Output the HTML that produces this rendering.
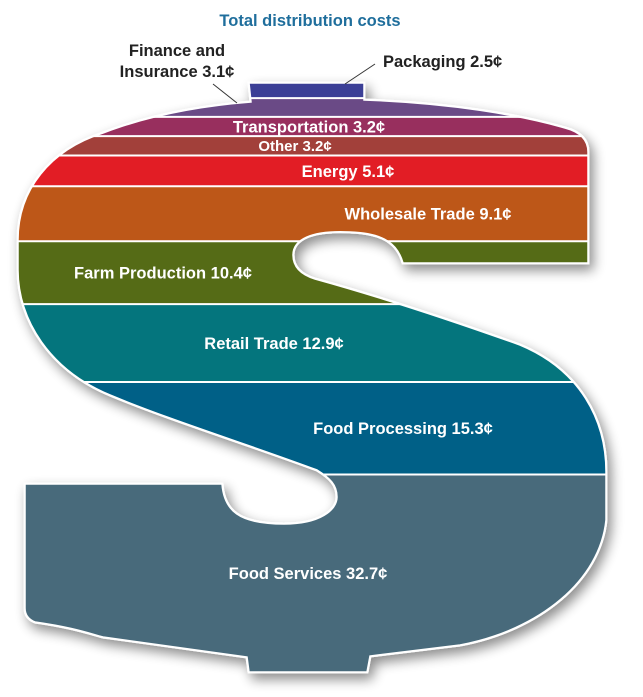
<!DOCTYPE html>
<html><head><meta charset="utf-8"><style>
html,body{margin:0;padding:0;background:#fff;}
svg{display:block;font-family:"Liberation Sans",sans-serif;}
</style></head><body>
<svg id="chart" width="643" height="697" viewBox="0 0 643 697">
<defs>
<clipPath id="sclip"><path id="spath" d="M249,83 L364,83 L364,100 C450,103 520,115 565,128 Q588,134 588,152 L588,263 L403,263 C398,245 385,233 350,232 C310,230 293,240 293,255 C293,268 302,275 315,279 C380,297 450,320 520,345 C580,370 606,420 606,472 L606,520 C600,580 540,630 460,645 L370,656 L367,672 L249,672 L247,657 L103,637 C85,632 70,627 35,622 Q25,618 25,608 L25,484 L222,484 C224,510 238,524 284,524 C320,524 337,510 337,497 C337,485 330,478 317,470 C250,445 170,420 110,395 C50,370 18,320 18,270 L18,240 C18,190 50,150 103,133 C150,115 200,106 251,102 Z"/></clipPath>
<filter id="shadow" x="-10%" y="-10%" width="130%" height="130%"><feGaussianBlur in="SourceAlpha" stdDeviation="6"/><feOffset dx="4" dy="6"/><feComponentTransfer><feFuncA type="linear" slope="0.45"/></feComponentTransfer><feMerge><feMergeNode/><feMergeNode in="SourceGraphic"/></feMerge></filter>
</defs>
<text x="310" y="26" text-anchor="middle" font-size="16.5" font-weight="bold" fill="#1f6e9c">Total distribution costs</text>
<g filter="url(#shadow)"><use href="#spath" fill="#fff" stroke="#fff" stroke-width="3"/></g>
<g id="bands" clip-path="url(#sclip)"></g>
<g id="labels"></g>
<text x="177" y="56" text-anchor="middle" font-size="16.5" font-weight="bold" fill="#222">Finance and</text>
<text x="177" y="77" text-anchor="middle" font-size="16.5" font-weight="bold" fill="#222">Insurance 3.1¢</text>
<line x1="213" y1="84" x2="237" y2="103" stroke="#333" stroke-width="1"/>
<text x="383" y="67" font-size="16.5" font-weight="bold" fill="#222">Packaging 2.5¢</text>
<line x1="375" y1="64" x2="345" y2="84" stroke="#333" stroke-width="1"/>
</svg>
<script>
const categories = ["Packaging","Finance and Insurance","Transportation","Other","Energy","Wholesale Trade","Farm Production","Retail Trade","Food Processing","Food Services"];
const values = [2.5,3.1,3.2,3.2,5.1,9.1,10.4,12.9,15.3,32.7];
const colors = ["#3b3f96","#6a4a86","#982f5e","#a2403a","#e21d25","#bd5718","#556b16","#04757d","#006087","#486a7b"];
const labelX = [null,null,309,295,348,428,163,274,403,308];
const labelSize = [0,0,16.5,15,16.5,16.5,16.5,16.5,16.5,16.5];
const NS="http://www.w3.org/2000/svg";
const y0=83, y1=672;
const total=values.reduce((a,b)=>a+b,0);
function yScale(v){return y0+(v/total)*(y1-y0);}
const bands=document.getElementById('bands');
const labels=document.getElementById('labels');
let cum=0;
values.forEach((v,i)=>{
  const top=yScale(cum), bot=yScale(cum+v);
  const r=document.createElementNS(NS,'rect');
  r.setAttribute('x',0);r.setAttribute('y',top);r.setAttribute('width',643);r.setAttribute('height',bot-top);
  r.setAttribute('fill',colors[i]);
  
  
  bands.appendChild(r);
  if(i>0){
    const l=document.createElementNS(NS,'line');
    l.setAttribute('x1',0);l.setAttribute('x2',643);l.setAttribute('y1',top);l.setAttribute('y2',top);
    l.setAttribute('stroke','#fff');l.setAttribute('stroke-width',2);
    
    
    bands.appendChild(l);
  }
  if(labelX[i]!==null){
    const t=document.createElementNS(NS,'text');
    t.setAttribute('x',labelX[i]);t.setAttribute('y',(top+bot)/2+labelSize[i]*0.36);
    t.setAttribute('text-anchor','middle');t.setAttribute('font-size',labelSize[i]);
    t.setAttribute('font-weight','bold');t.setAttribute('fill','#fff');
    t.textContent=categories[i]+' '+values[i]+'¢';
    
    
    labels.appendChild(t);
  }
  cum+=v;
});
const outline=document.createElementNS(NS,'use');
outline.setAttribute('href','#spath');outline.setAttribute('fill','none');outline.setAttribute('stroke','#fff');outline.setAttribute('stroke-width','1.5');


document.getElementById('chart').insertBefore(outline,labels);
</script>
</body></html>
